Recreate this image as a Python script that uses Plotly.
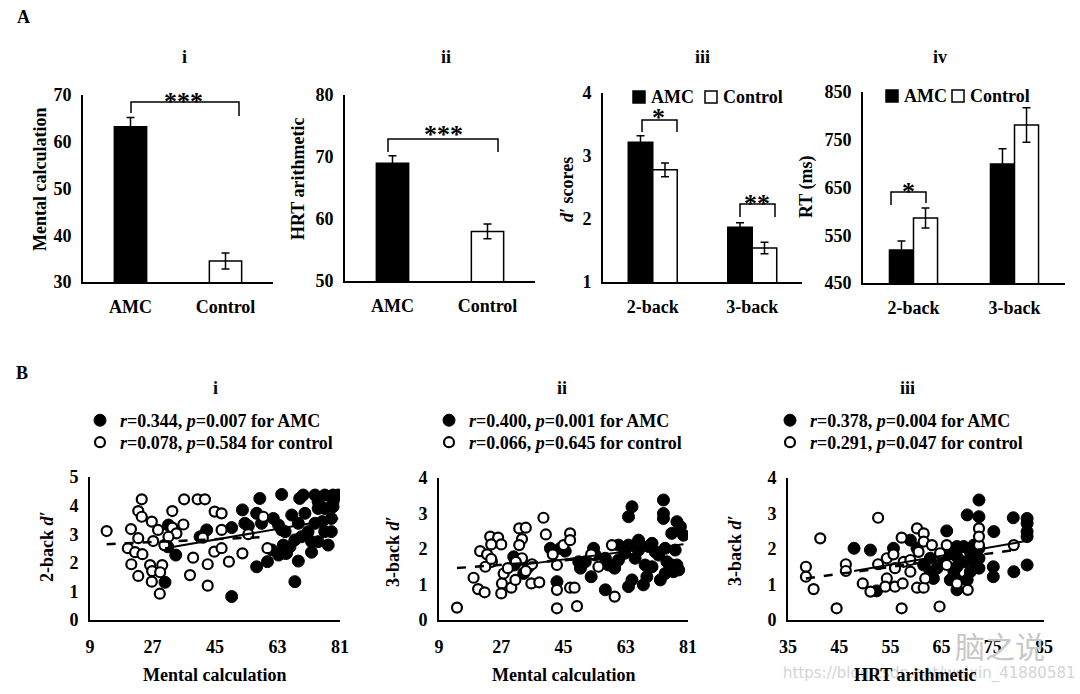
import plotly.graph_objects as go
import numpy as np

W, H = 1080, 694
def px(x): return x / W
def py(y): return 1 - y / H

FONT = "Liberation Serif"

# ---------------- data: panel A ----------------
a1_groups = ["AMC", "Control"]
a1_mean = [63.2, 34.5]
a1_err = [2.0, 1.7]
a1_yticks = [30, 40, 50, 60, 70]

a2_groups = ["AMC", "Control"]
a2_mean = [69.0, 58.0]
a2_err = [1.2, 1.2]
a2_yticks = [50, 60, 70, 80]

a3_tasks = ["2-back", "3-back"]
a3_amc = [3.22, 1.87]
a3_amc_err = [0.10, 0.07]
a3_ctl = [2.78, 1.54]
a3_ctl_err = [0.11, 0.09]
a3_yticks = [1, 2, 3, 4]

a4_tasks = ["2-back", "3-back"]
a4_amc = [519, 699]
a4_amc_err = [19, 32]
a4_ctl = [586, 781]
a4_ctl_err = [21, 36]
a4_yticks = [450, 550, 650, 750, 850]

group_names = ["AMC", "Control"]

# ---------------- data: panel B ----------------
b1_ctl_x = [13.8, 23.9, 22.9, 23.9, 20.8, 26.8, 22.9, 19.9, 22.0, 24.1, 20.9, 22.9, 26.3, 26.9, 29.8,
            29.2, 26.8, 29.1, 27.2, 28.6, 30.4, 32.7, 32.7, 33.9, 35.9, 36.1, 40.0, 42.1, 44.9, 46.9,
            38.7, 37.8, 42.9, 42.9, 44.8, 46.9, 46.9, 49.0, 52.9, 54.6, 58.9, 60.1, 41.5, 31.6]
b1_ctl_y = [3.11, 4.22, 3.81, 3.61, 3.18, 3.44, 2.86, 2.51, 2.37, 2.30, 1.95, 1.54, 1.92, 1.71, 1.92,
            1.67, 1.34, 0.92, 2.76, 3.15, 2.62, 3.81, 3.23, 3.03, 3.34, 4.22, 4.22, 4.22, 3.79, 3.73,
            2.18, 1.57, 1.95, 1.20, 2.39, 2.51, 3.15, 2.04, 2.33, 3.00, 3.61, 2.51, 2.88, 2.91]
b1_amc_x = [30.6, 33.7, 31.6, 31.4, 40.7, 42.6, 49.8, 49.8, 52.9, 53.6, 54.6, 57.9, 57.0, 57.0, 60.1,
            61.8, 63.3, 64.2, 65.2, 64.7, 65.6, 67.1, 68.0, 69.0, 69.4, 70.4, 70.9, 72.8, 73.8, 74.7,
            76.6, 79.0, 80.5, 79.0, 78.5, 78.5, 77.6, 74.7, 71.8, 69.9, 68.0, 66.6, 64.2, 69.0, 73.8,
            76.6, 75.9, 65.2, 61.4, 79.0, 74.7, 58.4, 72.8, 76.6, 63.3]
b1_amc_y = [1.32, 2.27, 3.32, 2.56, 2.91, 3.15, 0.82, 3.23, 3.85, 3.38, 3.29, 4.25, 3.73, 1.86, 2.04,
            3.55, 3.32, 4.39, 3.09, 2.62, 2.33, 3.67, 1.34, 2.06, 4.25, 4.37, 3.73, 2.37, 4.37, 3.90,
            4.37, 4.37, 4.37, 3.96, 3.55, 3.09, 2.62, 2.74, 3.09, 2.91, 2.80, 2.56, 3.15, 3.38, 3.38,
            3.09, 3.44, 2.33, 2.45, 4.14, 4.14, 3.38, 2.74, 3.90, 2.27]

b2_ctl_x = [14.2, 20.9, 22.9, 23.8, 26.1, 27.0, 24.1, 24.3, 22.4, 19.0, 20.3, 22.2, 27.2, 27.0, 29.9,
            31.1, 27.7, 28.9, 32.2, 34.1, 33.0, 32.2, 33.0, 35.9, 34.1, 35.7, 38.0, 39.2, 39.9, 43.1,
            41.9, 45.0, 46.9, 46.9, 43.1, 46.9, 48.2, 43.1, 48.9, 53.0, 55.1, 59.0, 59.8, 24.1, 31.2]
b2_ctl_y = [0.35, 1.94, 1.85, 2.35, 2.32, 2.13, 2.13, 1.64, 1.50, 1.19, 0.87, 0.78, 1.03, 0.75, 0.91,
            1.13, 1.31, 1.46, 2.58, 2.60, 2.28, 2.11, 1.74, 1.57, 1.38, 1.03, 1.06, 2.88, 2.41, 1.55,
            1.85, 2.11, 2.44, 2.25, 0.85, 0.91, 0.91, 0.33, 0.39, 1.85, 1.50, 2.11, 0.66, 1.72, 1.64]
b2_amc_x = [30.6, 30.8, 33.5, 34.9, 41.2, 44.1, 45.5, 43.1, 49.4, 49.9, 53.0, 53.7, 54.2, 57.1, 57.1,
            59.8, 60.9, 63.8, 62.7, 64.8, 63.8, 64.8, 63.8, 66.7, 68.6, 68.1, 69.1, 70.6, 71.5, 73.0,
            73.9, 73.9, 73.9, 74.4, 74.9, 76.3, 76.8, 77.8, 77.8, 78.8, 76.3, 79.7, 77.3, 69.6, 65.7,
            60.9, 58.0, 51.3, 66.7, 72.5, 74.4, 70.6, 78.3]
b2_amc_y = [1.78, 1.55, 1.31, 1.50, 2.02, 2.02, 1.94, 1.08, 1.64, 1.46, 1.22, 2.02, 1.83, 1.74, 0.85,
            1.46, 2.11, 2.11, 1.88, 3.19, 2.91, 1.13, 0.94, 2.25, 1.55, 0.99, 1.22, 2.16, 1.92, 1.13,
            3.38, 3.00, 2.86, 2.02, 1.64, 1.55, 1.36, 1.55, 2.77, 2.63, 2.44, 2.39, 1.97, 2.07, 1.74,
            1.69, 1.55, 1.64, 1.97, 1.83, 1.31, 1.50, 1.41]

b3_ctl_x = [38.5, 38.5, 40.0, 41.3, 44.5, 46.3, 46.3, 49.6, 51.1, 52.6, 52.6, 54.3, 55.6, 54.3, 54.0,
            55.9, 55.9, 57.2, 57.4, 57.2, 57.6, 58.9, 58.9, 60.2, 61.5, 61.5, 63.1, 60.2, 61.5, 61.8,
            64.6, 64.7, 66.0, 66.0, 68.0, 70.1, 72.3, 72.3, 79.1, 60.5, 72.3]
b3_ctl_y = [1.50, 1.22, 0.87, 2.30, 0.33, 1.57, 1.38, 1.03, 0.80, 2.88, 1.57, 1.74, 1.85, 1.17, 0.94,
            0.94, 1.46, 2.32, 1.03, 0.33, 1.64, 1.69, 1.36, 2.58, 2.44, 2.21, 2.11, 0.91, 0.91, 1.17,
            0.38, 1.88, 2.11, 1.55, 1.03, 0.85, 2.58, 2.11, 2.11, 1.92, 2.35]
b3_amc_x = [47.9, 51.1, 52.3, 55.6, 58.9, 60.2, 62.8, 62.8, 63.4, 64.1, 66.0, 65.4, 68.0, 68.0, 68.0,
            68.0, 69.3, 69.3, 70.0, 70.0, 72.3, 72.3, 72.3, 72.3, 75.2, 75.1, 75.1, 79.0, 79.1, 81.7,
            81.7, 81.7, 81.7, 66.7, 70.6, 71.3, 67.4, 61.5, 71.3, 66.7, 70.6, 81.7, 68.0, 72.3]
b3_amc_y = [2.02, 1.97, 0.82, 2.02, 2.25, 2.02, 1.74, 1.36, 1.17, 1.46, 2.51, 1.74, 2.07, 1.78, 1.50,
            0.85, 2.07, 1.64, 1.13, 2.96, 3.38, 2.91, 1.74, 1.46, 2.49, 1.50, 1.22, 2.88, 1.36, 2.86,
            2.72, 2.49, 1.55, 1.92, 1.92, 1.64, 1.36, 1.55, 2.11, 1.13, 1.36, 2.35, 1.13, 2.02]

# linear trend lines: [intercept, slope]
b1_amc_fit = [1.873, 0.0208]
b1_ctl_fit = [2.576, 0.0055]
b2_amc_fit = [1.145, 0.0124]
b2_ctl_fit = [1.363, 0.0071]
b3_amc_fit = [0.171, 0.0252]
b3_ctl_fit = [0.411, 0.0197]

b1_labels = ["<i>r</i>=0.344, <i>p</i>=0.007 for AMC", "<i>r</i>=0.078, <i>p</i>=0.584 for control"]
b2_labels = ["<i>r</i>=0.400, <i>p</i>=0.001 for AMC", "<i>r</i>=0.066, <i>p</i>=0.645 for control"]
b3_labels = ["<i>r</i>=0.378, <i>p</i>=0.004 for AMC", "<i>r</i>=0.291, <i>p</i>=0.047 for control"]
b12_xticks = [9, 27, 45, 63, 81]
b3_xticks = [35, 45, 55, 65, 75, 85]
b1_yticks = [0, 1, 2, 3, 4, 5]
b23_yticks = [0, 1, 2, 3, 4]

# ---------------- figure ----------------
fig = go.Figure()

def err(arr):
    return dict(type="data", array=arr, color="black", thickness=1.5, width=4)

LINE = dict(color="black", width=1.5)

fig.add_trace(go.Bar(x=a1_groups, y=a1_mean, width=0.34, marker=dict(color=["black", "white"], line=LINE),
                     error_y=err(a1_err), showlegend=False, xaxis="x", yaxis="y"))
fig.add_trace(go.Bar(x=a2_groups, y=a2_mean, width=0.34, marker=dict(color=["black", "white"], line=LINE),
                     error_y=err(a2_err), showlegend=False, xaxis="x2", yaxis="y2"))
fig.add_trace(go.Bar(x=a3_tasks, y=a3_amc, width=0.246, offset=-0.246, name="AMC", showlegend=False,
                     marker=dict(color="black", line=LINE), error_y=err(a3_amc_err), xaxis="x3", yaxis="y3"))
fig.add_trace(go.Bar(x=a3_tasks, y=a3_ctl, width=0.246, offset=0, name="Control", showlegend=False,
                     marker=dict(color="white", line=LINE), error_y=err(a3_ctl_err), xaxis="x3", yaxis="y3"))
fig.add_trace(go.Bar(x=a4_tasks, y=a4_amc, width=0.238, offset=-0.238, name="AMC", showlegend=False,
                     marker=dict(color="black", line=LINE), error_y=err(a4_amc_err), xaxis="x4", yaxis="y4"))
fig.add_trace(go.Bar(x=a4_tasks, y=a4_ctl, width=0.238, offset=0, name="Control", showlegend=False,
                     marker=dict(color="white", line=LINE), error_y=err(a4_ctl_err), xaxis="x4", yaxis="y4"))

def scatter_panel(ax, xa, ya, xc, yc, fa, fc, labels, legs):
    fig.add_trace(go.Scatter(x=xa, y=ya, mode="markers", name=labels[0], legend=legs[0],
                             marker=dict(symbol="circle", size=12, color="black",
                                         line=dict(color="black", width=1)),
                             xaxis="x" + ax, yaxis="y" + ax))
    fig.add_trace(go.Scatter(x=xc, y=yc, mode="markers", name=labels[1], legend=legs[1],
                             marker=dict(symbol="circle", size=10, color="white",
                                         line=dict(color="black", width=2.2)),
                             xaxis="x" + ax, yaxis="y" + ax))
    for xs, fit, dash, wd in ((xa, fa, "solid", 2), (xc, fc, "dash", 2.5)):
        xr = np.array([min(xs), max(xs)])
        fig.add_trace(go.Scatter(x=xr, y=fit[0] + fit[1] * xr, mode="lines", showlegend=False,
                                 line=dict(color="black", width=wd, dash=dash),
                                 xaxis="x" + ax, yaxis="y" + ax, hoverinfo="skip"))

scatter_panel("5", b1_amc_x, b1_amc_y, b1_ctl_x, b1_ctl_y, b1_amc_fit, b1_ctl_fit, b1_labels,
              ("legend", "legend2"))
scatter_panel("6", b2_amc_x, b2_amc_y, b2_ctl_x, b2_ctl_y, b2_amc_fit, b2_ctl_fit, b2_labels,
              ("legend3", "legend4"))
scatter_panel("7", b3_amc_x, b3_amc_y, b3_ctl_x, b3_ctl_y, b3_amc_fit, b3_ctl_fit, b3_labels,
              ("legend5", "legend6"))

TICKFONT = dict(family=FONT, size=18, color="black", weight="bold")

def xax(x0, x1, anchor, **kw):
    d = dict(domain=[px(x0), px(x1)], anchor=anchor, showline=True, linecolor="black", linewidth=2,
             showgrid=False, zeroline=False, ticks="", tickfont=TICKFONT, fixedrange=True, automargin=False)
    d.update(kw)
    return d

def yax(y_bottom, y_top, anchor, **kw):
    d = dict(domain=[py(y_bottom), py(y_top)], anchor=anchor, showline=True, linecolor="black",
             linewidth=2, showgrid=False, zeroline=False, ticks="", tickfont=TICKFONT,
             fixedrange=True, ticklabelstandoff=6, automargin=False)
    d.update(kw)
    return d

cat = dict(type="category", range=[-0.5, 1.5], ticklabelstandoff=7)

def legfmt(**kw):
    d = dict(font=dict(family=FONT, size=18, color="black", weight="bold"), bgcolor="rgba(0,0,0,0)",
             borderwidth=0, xanchor="left", yanchor="top", itemclick=False, itemdoubleclick=False)
    d.update(kw)
    return d

annotations = []
def txt(x, y, s, size=18, angle=0, **kw):
    a = dict(x=px(x), y=py(y), xref="paper", yref="paper", text=s, showarrow=False,
             font=dict(family=FONT, size=size, color="black", weight="bold"),
             xanchor="center", yanchor="middle", textangle=angle)
    a.update(kw)
    annotations.append(a)

shapes = []

# bar-chart legends (square key + label)
def bar_key(xc, yc, fill, label):
    shapes.append(dict(type="rect", xref="paper", yref="paper", x0=px(xc - 6), x1=px(xc + 6),
                       y0=py(yc + 6), y1=py(yc - 6), fillcolor=fill, line=dict(color="black", width=1.5)))
    txt(xc + 10, yc, label, xanchor="left")

bar_key(639, 97, "black", group_names[0])
bar_key(711, 97, "white", group_names[1])
bar_key(892, 96, "black", group_names[0])
bar_key(958, 96, "white", group_names[1])

# panel letters & titles
txt(23, 17, "A")
txt(22, 373, "B")
for x, s in ((184, "i"), (446, "ii"), (702, "iii"), (940, "iv")):
    txt(x, 57, s)
for x, s in ((215, "i"), (562, "ii"), (907, "iii")):
    txt(x, 388, s)

# axis titles
txt(40, 180, "Mental calculation", angle=-90)
txt(298, 179, "HRT arithmetic", angle=-90)
txt(567, 190, "<i>d′</i> scores", angle=-90)
txt(807, 187, "RT (ms)", angle=-90)
txt(47, 547, "2-back <i>d′</i>", angle=-90)
txt(393, 552, "3-back <i>d′</i>", angle=-90)
txt(735, 551, "3-back <i>d′</i>", angle=-90)

# watermark (under the axis title)
annotations.append(dict(x=px(1078), y=py(673), xref="paper", yref="paper", showarrow=False,
                        text="https://blog.csdn.net/weixin_41880581", xanchor="right", yanchor="middle",
                        font=dict(family="DejaVu Sans", size=15, color="#d4d4d4")))
annotations.append(dict(x=px(1000), y=py(645), xref="paper", yref="paper", showarrow=False,
                        text="脑之说", xanchor="center", yanchor="middle",
                        font=dict(family="Noto Sans CJK SC", size=30, color="#c8c8c8")))

txt(214, 675, "Mental calculation")
txt(563, 675, "Mental calculation")
txt(915, 675, "HRT arithmetic")

# significance brackets
def bracket(x1, x2, ytop, yl, yr, stars, sx, sy):
    shapes.append(dict(type="path", xref="paper", yref="paper",
                       path=f"M{px(x1)},{py(yl)} L{px(x1)},{py(ytop)} L{px(x2)},{py(ytop)} L{px(x2)},{py(yr)}",
                       line=dict(color="black", width=1.5)))
    txt(sx, sy + 4, stars, size=26)

bracket(131, 239, 102, 113, 116, "***", 183, 97)
bracket(388, 498, 139, 152, 152, "***", 443, 130)
bracket(642, 677, 120, 132, 132, "*", 658, 114)
bracket(740, 775, 204, 217, 217, "**", 757, 199)
bracket(891, 926, 192, 205, 203, "*", 908, 187)

fig.update_layout(
    width=W, height=H, margin=dict(l=0, r=0, t=0, b=0, pad=0, autoexpand=False),
    paper_bgcolor="white", plot_bgcolor="white", barmode="overlay",
    xaxis=xax(83, 273, "y", **cat),
    yaxis=yax(282, 95, "x", range=[30, 70], tickvals=a1_yticks),
    xaxis2=xax(345, 535, "y2", **cat),
    yaxis2=yax(281, 95, "x2", range=[50, 80], tickvals=a2_yticks),
    xaxis3=xax(603, 802, "y3", **cat),
    yaxis3=yax(282, 93, "x3", range=[1, 4], tickvals=a3_yticks),
    xaxis4=xax(863, 1065, "y4", **cat),
    yaxis4=yax(283, 92, "x4", range=[450, 850], tickvals=a4_yticks),
    xaxis5=xax(90, 340, "y5", range=[9, 81], tickvals=b12_xticks, ticklabelstandoff=9),
    yaxis5=yax(620, 477, "x5", range=[0, 5], tickvals=b1_yticks),
    xaxis6=xax(439, 688, "y6", range=[9, 81], tickvals=b12_xticks, ticklabelstandoff=9),
    yaxis6=yax(620, 478, "x6", range=[0, 4], tickvals=b23_yticks),
    xaxis7=xax(788, 1044, "y7", range=[35, 85], tickvals=b3_xticks, ticklabelstandoff=9),
    yaxis7=yax(620, 478, "x7", range=[0, 4], tickvals=b23_yticks),
    legend=legfmt(x=px(80), y=py(402)),
    legend2=legfmt(x=px(80), y=py(424)),
    legend3=legfmt(x=px(429), y=py(402)),
    legend4=legfmt(x=px(429), y=py(424)),
    legend5=legfmt(x=px(770), y=py(402)),
    legend6=legfmt(x=px(770), y=py(424)),
    annotations=annotations,
    shapes=shapes,
    showlegend=True,
)

fig.write_html("out.html", config={"displayModeBar": False},
               post_script="document.body.style.margin='0';document.body.style.overflow='hidden';")
